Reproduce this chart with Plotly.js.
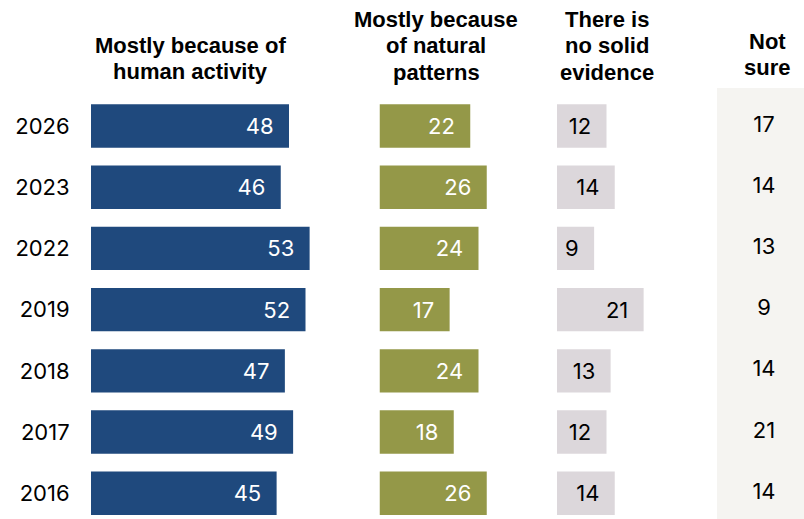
<!DOCTYPE html>
<html>
<head>
<meta charset="utf-8">
<script src="https://cdn.plot.ly/plotly-3.0.1.min.js"></script>
<style>html,body{margin:0;padding:0;background:#fff;}#chart{width:804px;height:519px;}</style>
</head>
<body>
<div id="chart"></div>
<script>
const years = ["2026", "2023", "2022", "2019", "2018", "2017", "2016"];
const humanActivity = [48, 46, 53, 52, 47, 49, 45];
const naturalPatterns = [22, 26, 24, 17, 24, 18, 26];
const noSolidEvidence = [12, 14, 9, 21, 13, 12, 14];
const notSure = [17, 14, 13, 9, 14, 21, 14];
const headers = [
  ["Mostly because of", "human activity"],
  ["Mostly because", "of natural", "patterns"],
  ["There is", "no solid", "evidence"],
  ["Not", "sure"]
];

const W = 804, H = 519;
const PX = 4.125; // pixels per percentage point
const NUM_FONT = "Inter, Liberation Sans, Arial, sans-serif";
const pad = "\u00a0\u00a0";

function barTrace(vals, axis, color, txtColor) {
  return {
    type: "bar", orientation: "h",
    x: vals, y: years, xaxis: axis, yaxis: "y",
    width: 0.709,
    marker: {color: color, line: {width: 0}},
    text: vals.map(v => v + pad),
    textposition: "inside", insidetextanchor: "end",
    textfont: {family: NUM_FONT, size: 22, color: txtColor},
    hoverinfo: "none", cliponaxis: false
  };
}

const data = [
  barTrace(humanActivity, "x", "#1f497d", "#ffffff"),
  barTrace(naturalPatterns, "x2", "#949848", "#ffffff"),
  barTrace(noSolidEvidence, "x3", "#dcd7db", "#000000"),
  {
    type: "scatter", mode: "text",
    x: notSure.map(() => 0.54), y: years, xaxis: "x4", yaxis: "y",
    text: notSure.map(String),
    textposition: "middle center",
    textfont: {family: NUM_FONT, size: 22, color: "#000000"},
    hoverinfo: "none", cliponaxis: false
  }
];

function xa(x0, x1, range) {
  return {domain: [x0 / W, x1 / W], range: range, visible: false, fixedrange: true, anchor: "y"};
}

const headerX = [190, 436, 607, 767];
const headerBase = [[53, 79], [27, 53.5, 80], [27, 53.5, 80], [49, 75]];
const annotations = [];
headers.forEach((lines, c) => {
  lines.forEach((t, i) => {
    annotations.push({
      xref: "paper", yref: "paper",
      x: headerX[c] / W, y: 1 - (headerBase[c][i] - 7.6) / H,
      xanchor: "center", yanchor: "middle",
      text: "<b>" + t + "</b>", showarrow: false,
      font: {family: "Liberation Sans, Arial, sans-serif", size: 22, color: "#000000"}
    });
  });
});

const layout = {
  width: W, height: H,
  margin: {l: 0, r: 0, t: 0, b: 0},
  paper_bgcolor: "#ffffff", plot_bgcolor: "rgba(0,0,0,0)",
  showlegend: false,
  barmode: "overlay",
  xaxis: xa(91, 321, [0, 230 / PX]),
  xaxis2: xa(379.5, 540, [0, 160.5 / PX]),
  xaxis3: xa(557, 700, [0, 143 / PX]),
  xaxis4: xa(717, 804, [0, 1]),
  yaxis: {
    type: "category", categoryorder: "array", categoryarray: years,
    range: [6.421, -2.059], domain: [0, 1], anchor: "x",
    showgrid: false, zeroline: false, showline: false,
    ticks: "outside", ticklen: 16, tickcolor: "rgba(0,0,0,0)",
    tickfont: {family: NUM_FONT, size: 22, color: "#000000"},
    fixedrange: true
  },
  shapes: [{
    type: "rect", xref: "paper", yref: "paper", layer: "below",
    x0: 717 / W, x1: 1, y0: 0, y1: 1 - 88 / H,
    fillcolor: "#f5f4f1", line: {width: 0}
  }],
  annotations: annotations
};

Plotly.newPlot("chart", data, layout, {displayModeBar: false, staticPlot: true});
</script>
</body>
</html>
